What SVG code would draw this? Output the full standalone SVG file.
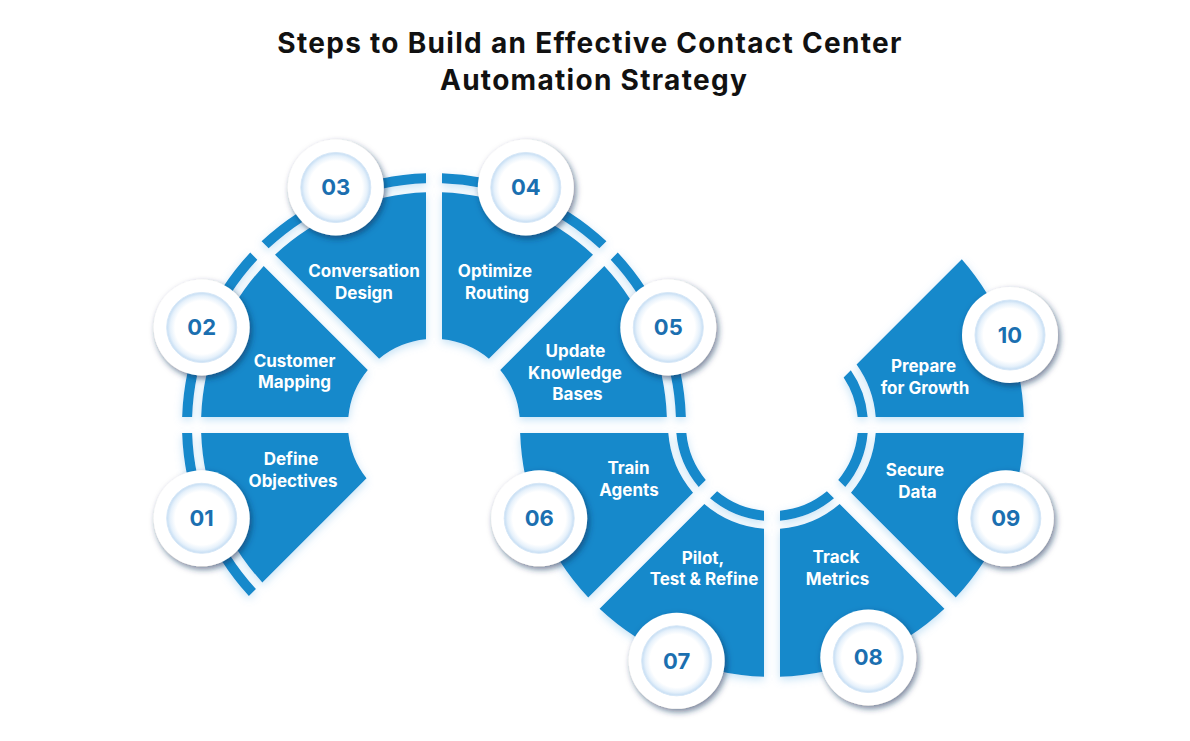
<svg xmlns="http://www.w3.org/2000/svg" width="1190" height="741" viewBox="0 0 1190 741">
  <defs>
    <filter id="glow" x="-20%" y="-20%" width="140%" height="140%">
      <feDropShadow dx="0" dy="3" stdDeviation="4" flood-color="#7fc0ea" flood-opacity="0.45"/>
    </filter>
    <filter id="badgeShadow" x="-30%" y="-30%" width="160%" height="160%">
      <feDropShadow dx="2" dy="3" stdDeviation="3" flood-color="#0d2c55" flood-opacity="0.6"/>
    </filter>
    <radialGradient id="innerGrad" cx="0.5" cy="0.5" r="0.5">
      <stop offset="0" stop-color="#ffffff"/>
      <stop offset="0.76" stop-color="#ffffff"/>
      <stop offset="0.9" stop-color="#e6f1fb"/>
      <stop offset="1" stop-color="#c3dcf3"/>
    </radialGradient>
    <style>
      .seg { fill: #1689cb; }
      .ring { fill: #1689cb; }
      .label { font-family: Inter, "Liberation Sans", sans-serif; font-weight: 700; font-size: 17px; fill: #ffffff; text-anchor: middle; }
      .num { font-family: Inter, "Liberation Sans", sans-serif; font-weight: 700; font-size: 22px; fill: #1b6fb0; text-anchor: middle; }
      .title { font-family: Inter, "Liberation Sans", sans-serif; font-weight: 700; font-size: 28px; fill: #111111; text-anchor: middle; letter-spacing: 1.3px; }
      .outer { fill: #ffffff; filter: url(#badgeShadow); }
      .inner { fill: url(#innerGrad); stroke: #d6e7f7; stroke-width: 1; }
    </style>
  </defs>
  <rect width="1190" height="741" fill="#ffffff"/>

  <g id="title">
    <text class="title" x="590" y="53">Steps to Build an Effective Contact Center</text>
    <text class="title" x="594" y="90">Automation Strategy</text>
  </g>

  <g id="connectors"></g>

  <g id="node-01">
    <g filter="url(#glow)">
      <path class="seg" d="M 201.14 433 A 233 233 0 0 0 262.32 582.54 L 366.53 478.33 A 86 86 0 0 1 348.37 433 Z"/>
      <path class="ring" d="M 182.13 433 A 252 252 0 0 0 248.88 595.98 L 255.96 588.90 A 242 242 0 0 1 192.13 433 Z"/>
    </g>
    <text class="label" x="291" y="465">Define</text>
    <text class="label" x="293" y="487">Objectives</text>
    <circle class="outer" cx="201.7" cy="518.3" r="48"/>
    <circle class="inner" cx="201.7" cy="518.3" r="35"/>
    <text class="num" x="201.7" y="526">01</text>
  </g>

  <g id="node-02">
    <g filter="url(#glow)">
      <path class="seg" d="M 201.14 417 A 233 233 0 0 1 263.69 266.00 L 367.79 370.11 A 86 86 0 0 0 348.37 417 Z"/>
      <path class="ring" d="M 182.13 417 A 252 252 0 0 1 250.24 252.56 L 257.32 259.63 A 242 242 0 0 0 192.13 417 Z"/>
    </g>
    <text class="label" x="294.5" y="366.5">Customer</text>
    <text class="label" x="294.5" y="388">Mapping</text>
    <circle class="outer" cx="201.7" cy="327.5" r="48"/>
    <circle class="inner" cx="201.7" cy="327.5" r="35"/>
    <text class="num" x="201.7" y="335.2">02</text>
  </g>

  <g id="node-03">
    <g filter="url(#glow)">
      <path class="seg" d="M 275.00 254.69 A 233 233 0 0 1 426 192.14 L 426 339.37 A 86 86 0 0 0 379.11 358.79 Z"/>
      <path class="ring" d="M 261.56 241.24 A 252 252 0 0 1 426 173.13 L 426 183.13 A 242 242 0 0 0 268.63 248.32 Z"/>
    </g>
    <text class="label" x="364" y="277">Conversation</text>
    <text class="label" x="364" y="299">Design</text>
    <circle class="outer" cx="335.8" cy="187.5" r="48"/>
    <circle class="inner" cx="335.8" cy="187.5" r="35"/>
    <text class="num" x="335.8" y="195.2">03</text>
  </g>

  <g id="node-04">
    <g filter="url(#glow)">
      <path class="seg" d="M 442 192.14 A 233 233 0 0 1 593.00 254.69 L 488.89 358.79 A 86 86 0 0 0 442 339.37 Z"/>
      <path class="ring" d="M 442 173.13 A 252 252 0 0 1 606.44 241.24 L 599.37 248.32 A 242 242 0 0 0 442 183.13 Z"/>
    </g>
    <text class="label" x="495" y="277">Optimize</text>
    <text class="label" x="497" y="298.5">Routing</text>
    <circle class="outer" cx="525.8" cy="187.5" r="48"/>
    <circle class="inner" cx="525.8" cy="187.5" r="35"/>
    <text class="num" x="525.8" y="195.2">04</text>
  </g>

  <g id="node-05">
    <g filter="url(#glow)">
      <path class="seg" d="M 604.31 266.00 A 233 233 0 0 1 666.86 417 L 519.63 417 A 86 86 0 0 0 500.21 370.11 Z"/>
      <path class="ring" d="M 617.76 252.56 A 252 252 0 0 1 685.87 417 L 675.87 417 A 242 242 0 0 0 610.68 259.63 Z"/>
    </g>
    <text class="label" x="575.5" y="357">Update</text>
    <text class="label" x="575" y="378.5">Knowledge</text>
    <text class="label" x="577.5" y="400">Bases</text>
    <circle class="outer" cx="668.3" cy="327.5" r="48"/>
    <circle class="inner" cx="668.3" cy="327.5" r="35"/>
    <text class="num" x="668.3" y="335.2">05</text>
  </g>

  <g id="node-06">
    <g filter="url(#glow)">
      <path class="seg" d="M 520.13 433 A 252 252 0 0 0 588.24 597.44 L 693.02 492.66 A 104 104 0 0 1 668.31 433 Z"/>
      <path class="ring" d="M 676.33 433 A 96 96 0 0 0 698.69 486.99 L 705.79 479.89 A 86 86 0 0 1 686.37 433 Z"/>
    </g>
    <text class="label" x="628.5" y="474">Train</text>
    <text class="label" x="629" y="495.5">Agents</text>
    <circle class="outer" cx="539.2" cy="518.3" r="48"/>
    <circle class="inner" cx="539.2" cy="518.3" r="35"/>
    <text class="num" x="539.2" y="526">06</text>
  </g>

  <g id="node-07">
    <g filter="url(#glow)">
      <path class="seg" d="M 599.56 608.76 A 252 252 0 0 0 764 676.87 L 764 528.69 A 104 104 0 0 1 704.34 503.98 Z"/>
      <path class="ring" d="M 710.01 498.31 A 96 96 0 0 0 764 520.67 L 764 510.63 A 86 86 0 0 1 717.11 491.21 Z"/>
    </g>
    <text class="label" x="703" y="563.5">Pilot,</text>
    <text class="label" x="704" y="585">Test &amp; Refine</text>
    <circle class="outer" cx="676.7" cy="660.8" r="48"/>
    <circle class="inner" cx="676.7" cy="660.8" r="35"/>
    <text class="num" x="676.7" y="668.5">07</text>
  </g>

  <g id="node-08">
    <g filter="url(#glow)">
      <path class="seg" d="M 780 676.87 A 252 252 0 0 0 944.44 608.76 L 839.66 503.98 A 104 104 0 0 1 780 528.69 Z"/>
      <path class="ring" d="M 780 520.67 A 96 96 0 0 0 833.99 498.31 L 826.89 491.21 A 86 86 0 0 1 780 510.63 Z"/>
    </g>
    <text class="label" x="836" y="563">Track</text>
    <text class="label" x="837.5" y="584.5">Metrics</text>
    <circle class="outer" cx="868.3" cy="657.5" r="48"/>
    <circle class="inner" cx="868.3" cy="657.5" r="35"/>
    <text class="num" x="868.3" y="665.2">08</text>
  </g>

  <g id="node-09">
    <g filter="url(#glow)">
      <path class="seg" d="M 955.76 597.44 A 252 252 0 0 0 1023.87 433 L 875.69 433 A 104 104 0 0 1 850.98 492.66 Z"/>
      <path class="ring" d="M 845.31 486.99 A 96 96 0 0 0 867.67 433 L 857.63 433 A 86 86 0 0 1 838.21 479.89 Z"/>
    </g>
    <text class="label" x="915" y="476">Secure</text>
    <text class="label" x="917.5" y="497.5">Data</text>
    <circle class="outer" cx="1005.8" cy="518.3" r="48"/>
    <circle class="inner" cx="1005.8" cy="518.3" r="35"/>
    <text class="num" x="1005.8" y="526">09</text>
  </g>

  <g id="node-10">
    <g filter="url(#glow)">
      <path class="seg" d="M 1023.87 417 A 252 252 0 0 0 961.81 259.23 L 856.57 364.47 A 104 104 0 0 1 875.69 417 Z"/>
      <path class="ring" d="M 867.67 417 A 96 96 0 0 0 850.83 370.21 L 843.63 377.41 A 86 86 0 0 1 857.63 417 Z"/>
    </g>
    <text class="label" x="923.5" y="372">Prepare</text>
    <text class="label" x="925" y="393.5">for Growth</text>
    <circle class="outer" cx="1010" cy="335" r="48"/>
    <circle class="inner" cx="1010" cy="335" r="35"/>
    <text class="num" x="1010" y="342.7">10</text>
  </g>
</svg>
